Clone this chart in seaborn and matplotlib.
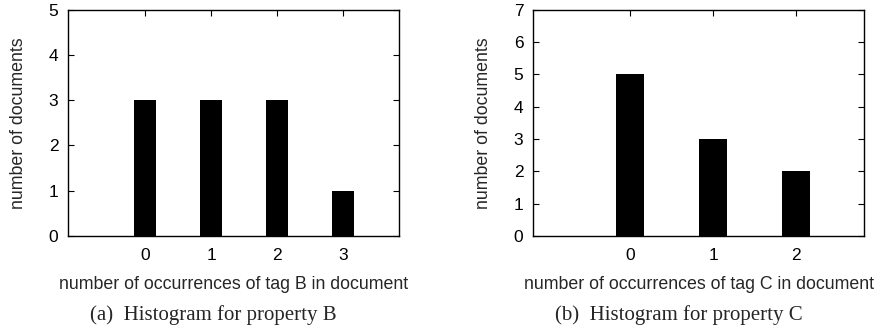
import matplotlib
matplotlib.use("Agg")
import matplotlib.pyplot as plt
import seaborn as sns
import pandas as pd

# data
occ_b = [0, 1, 2, 3]
docs_b = [3, 3, 3, 1]
occ_c = [0, 1, 2]
docs_c = [5, 3, 2]

sns.set_style("ticks")
plt.rcParams['font.family'] = ['Liberation Sans', 'DejaVu Sans']
plt.rcParams['axes.linewidth'] = 1.0

fig = plt.figure(figsize=(8.81, 3.32), dpi=100)
ax1 = fig.add_axes([0.0772, 0.289, 0.3757, 0.682])
ax2 = fig.add_axes([0.605, 0.289, 0.3757, 0.682])

panels = [
    (ax1, occ_b, docs_b, "B", 5, (-1.17, 3.85), 0.242, "(a)  Histogram for property B"),
    (ax2, occ_c, docs_c, "C", 7, (-1.17, 2.82), 0.771, "(b)  Histogram for property C"),
]

for ax, occ, docs, tag, ymax, xlim, cap_x, caption in panels:
    df = pd.DataFrame({"occ": occ, "docs": docs})
    sns.barplot(x="occ", y="docs", data=df, color="black", width=0.34,
                saturation=1, edgecolor="none", ax=ax)
    ax.set_xlim(*xlim)
    ax.set_ylim(0, ymax)
    ax.set_yticks(range(ymax + 1))
    ax.set_xticks(range(len(occ)))
    ax.set_xticklabels([str(v) for v in occ])
    ax.tick_params(direction="in", length=4, width=0.8, top=True, right=True,
                   labelsize=12.5, colors="black")
    ax.tick_params(axis="x", pad=8.5)
    ax.tick_params(axis="y", pad=7)
    for s in ax.spines.values():
        s.set_visible(True)
        s.set_color("black")
    ax.set_xlabel("number of occurrences of tag %s in document" % tag, fontsize=12.8)
    ax.xaxis.set_label_coords(0.5, -0.175)
    ax.set_ylabel("number of documents", fontsize=12.8)
    ax.yaxis.set_label_coords(-0.123, 0.5)
    fig.text(cap_x, 0.051, caption, ha="center", va="center",
             fontsize=15, family=["Liberation Serif", "DejaVu Serif"])

fig.savefig("out.png", dpi=100)
